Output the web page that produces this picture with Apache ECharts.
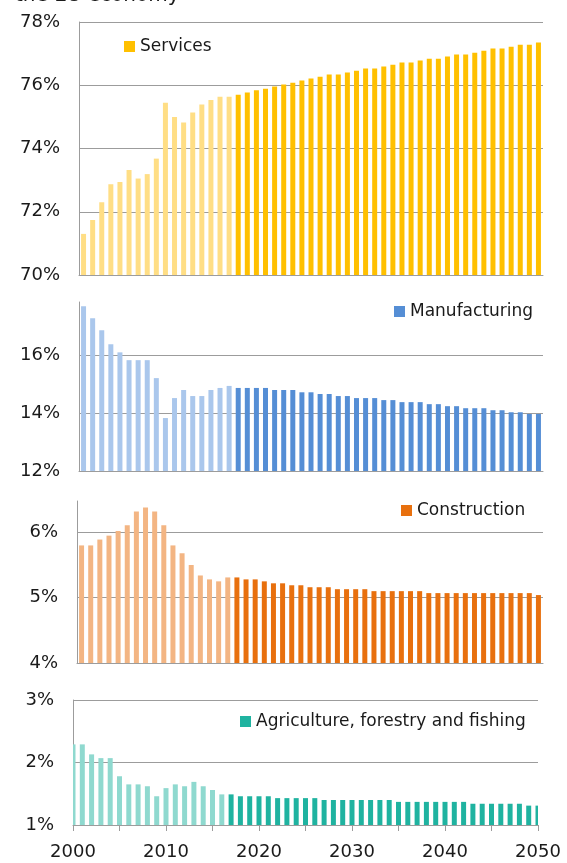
<!DOCTYPE html>
<html>
<head>
<meta charset="utf-8">
<script src="https://cdn.jsdelivr.net/npm/echarts@6/dist/echarts.min.js"></script>
<style>
  html, body { margin: 0; padding: 0; background: #fff; }
  #main { width: 567px; height: 863px; }
</style>
</head>
<body>
<div id="main"></div>
<script>
// years on the x axis, history up to 2016, projection from 2017
var years = [2000, 2001, 2002, 2003, 2004, 2005, 2006, 2007, 2008, 2009,
             2010, 2011, 2012, 2013, 2014, 2015, 2016, 2017, 2018, 2019,
             2020, 2021, 2022, 2023, 2024, 2025, 2026, 2027, 2028, 2029,
             2030, 2031, 2032, 2033, 2034, 2035, 2036, 2037, 2038, 2039,
             2040, 2041, 2042, 2043, 2044, 2045, 2046, 2047, 2048, 2049, 2050];
var firstProjectionYear = 2017;

// share of the economy, %
var services = [71.3, 71.74, 72.3, 72.87, 72.94, 73.32, 73.05, 73.19, 73.68, 75.45,
                75.0, 74.82, 75.14, 75.39, 75.53, 75.64, 75.64, 75.7, 75.77, 75.84,
                75.89, 75.96, 76.02, 76.08, 76.15, 76.21, 76.27, 76.34, 76.34, 76.4,
                76.46, 76.53, 76.53, 76.59, 76.65, 76.72, 76.72, 76.78, 76.84, 76.84,
                76.91, 76.97, 76.97, 77.03, 77.09, 77.16, 77.16, 77.22, 77.28, 77.28, 77.35];
var manufacturing = [17.69, 17.28, 16.86, 16.38, 16.1, 15.83, 15.83, 15.83, 15.21, 13.83,
                     14.52, 14.8, 14.59, 14.59, 14.8, 14.87, 14.94, 14.87, 14.87, 14.87,
                     14.87, 14.8, 14.8, 14.8, 14.72, 14.72, 14.66, 14.66, 14.59, 14.59,
                     14.52, 14.52, 14.52, 14.45, 14.45, 14.38, 14.38, 14.38, 14.31, 14.31,
                     14.24, 14.24, 14.17, 14.17, 14.17, 14.1, 14.1, 14.03, 14.03, 13.97, 13.97];
var construction = [5.80, 5.80, 5.89, 5.95, 6.02, 6.11, 6.32, 6.38, 6.32, 6.11,
                    5.80, 5.68, 5.50, 5.34, 5.28, 5.25, 5.31, 5.31, 5.28, 5.28,
                    5.25, 5.22, 5.22, 5.19, 5.19, 5.16, 5.16, 5.16, 5.13, 5.13,
                    5.13, 5.13, 5.10, 5.10, 5.10, 5.10, 5.10, 5.10, 5.07, 5.07,
                    5.07, 5.07, 5.07, 5.07, 5.07, 5.07, 5.07, 5.07, 5.07, 5.07, 5.04];
var agriculture = [2.29, 2.29, 2.13, 2.07, 2.07, 1.78, 1.65, 1.65, 1.62, 1.46,
                   1.59, 1.65, 1.62, 1.69, 1.62, 1.56, 1.49, 1.49, 1.46, 1.46,
                   1.46, 1.46, 1.43, 1.43, 1.43, 1.43, 1.43, 1.40, 1.40, 1.40,
                   1.40, 1.40, 1.40, 1.40, 1.40, 1.37, 1.37, 1.37, 1.37, 1.37,
                   1.37, 1.37, 1.37, 1.34, 1.34, 1.34, 1.34, 1.34, 1.34, 1.31, 1.31];

var sectorNames = ['Services', 'Manufacturing', 'Construction', 'Agriculture, forestry and fishing'];
// [min, max, interval]
var yTicks = [[70, 78, 2], [12, 17.84, 2], [4, 6.48, 1], [1, 3, 1]];
// panels whose top is a round tick with its own gridline
var roundTop = [true, false, false, true];

var font = 'DejaVu Sans';
var gray = '#9c9c9c';
var barW = 5;

// [projection colour, history colour]
var colors = [['#FFC000', '#FFDE85'], ['#558ED5', '#AAC7EC'], ['#E8700E', '#F3B583'], ['#1FB3A0', '#8FD9CF']];

var grids = [
    { left: 79, right: 24, top: 22, height: 253 },
    { left: 79, right: 24, top: 302, height: 169 },
    { left: 77, right: 24, top: 501, height: 162 },
    { left: 73, right: 29, top: 700, height: 125 }
];
var legendPos = [
    { left: 124, top: 38 },
    { left: 394, top: 303 },
    { left: 401, top: 502 },
    { left: 240, top: 713 }
];

var values = [services, manufacturing, construction, agriculture];

function seriesData(vals, c) {
    var out = [];
    for (var i = 0; i < years.length; i++) {
        out.push({
            value: [years[i], vals[i]],
            itemStyle: { color: years[i] < firstProjectionYear ? c[1] : c[0] }
        });
    }
    return out;
}

// last panel: bars sit on the year ticks, clipped at the plot edge like Excel does
function clippedBar(params, api) {
    var yr = api.value(0);
    var top = api.coord([yr, api.value(1)]);
    var base = api.coord([yr, yTicks[3][0]]);
    var cs = params.coordSys;
    var shape = echarts.graphic.clipRectByRect(
        { x: top[0] - barW / 2, y: top[1], width: barW, height: base[1] - top[1] },
        { x: cs.x, y: cs.y, width: cs.width, height: cs.height }
    );
    if (!shape) return;
    return {
        type: 'rect',
        shape: shape,
        style: { fill: yr < firstProjectionYear ? colors[3][1] : colors[3][0] }
    };
}

var xAxes = [], yAxes = [], series = [], legends = [];
for (var k = 0; k < 4; k++) {
    var last = k == 3;
    var t = yTicks[k];
    xAxes.push({
        type: 'value',
        gridIndex: k,
        min: last ? 2000 : 1999.5,
        max: last ? 2050 : 2050.5,
        interval: 5,
        axisLine: { show: true, lineStyle: { color: gray, width: 1 } },
        axisTick: { show: last, length: 6, lineStyle: { color: gray } },
        axisLabel: {
            show: last,
            margin: 18,
            fontFamily: font,
            fontSize: 18,
            color: '#1a1a1a',
            formatter: function (v) { return v % 10 == 0 ? String(v) : ''; }
        },
        splitLine: { show: false }
    });
    var split = { show: true, lineStyle: { color: gray, width: 1 } };
    var lab = {
        margin: 19,
        fontFamily: font,
        fontSize: 18,
        color: '#1a1a1a',
        formatter: function (v) { return Math.round(v) + '%'; }
    };
    if (!roundTop[k]) {
        split.showMaxLine = false;
        lab.showMaxLabel = false;
    }
    yAxes.push({
        type: 'value',
        gridIndex: k,
        min: t[0],
        max: t[1],
        interval: t[2],
        axisLine: { show: true, lineStyle: { color: gray, width: 1 } },
        axisTick: { show: false },
        axisLabel: lab,
        splitLine: split
    });
    var s = {
        name: sectorNames[k],
        xAxisIndex: k,
        yAxisIndex: k,
        itemStyle: { color: colors[k][0] },
        data: seriesData(values[k], colors[k])
    };
    if (last) {
        s.type = 'custom';
        s.encode = { x: 0, y: 1 };
        s.renderItem = clippedBar;
    } else {
        s.type = 'bar';
        s.barWidth = barW;
    }
    if (roundTop[k]) {
        s.markLine = {
            symbol: 'none',
            label: { show: false },
            lineStyle: { color: gray, width: 1, type: 'solid' },
            data: [{ yAxis: t[1] }]
        };
    }
    series.push(s);
    legends.push({
        data: [sectorNames[k]],
        left: legendPos[k].left,
        top: legendPos[k].top,
        padding: 0,
        icon: 'rect',
        itemWidth: 11,
        itemHeight: 11,
        textStyle: { fontFamily: font, fontSize: 17, color: '#1a1a1a' }
    });
}

var myChart = echarts.init(document.getElementById('main'));
var option = {
    animation: false,
    backgroundColor: '#fff',
    graphic: [{
        type: 'text',
        x: 15,
        y: 6,
        style: { text: 'the EU economy', fontFamily: font, fontSize: 20, fill: '#1a1a1a', verticalAlign: 'bottom' }
    }],
    legend: legends,
    grid: grids,
    xAxis: xAxes,
    yAxis: yAxes,
    series: series
};
myChart.setOption(option);
</script>
</body>
</html>
